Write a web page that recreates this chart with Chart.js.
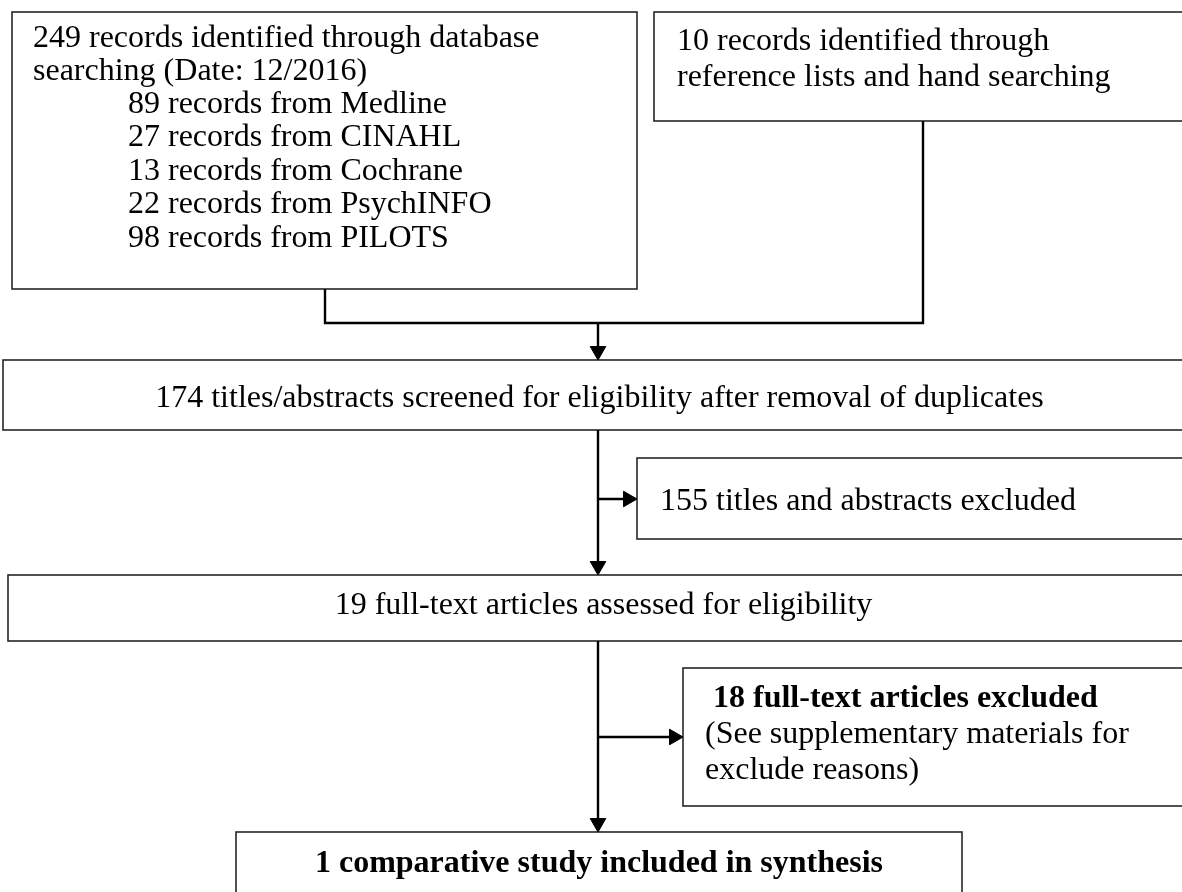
<!DOCTYPE html>
<html>
<head>
<meta charset="UTF-8"/>
<script src="https://cdn.jsdelivr.net/npm/chart.js@4.4.0/dist/chart.umd.min.js"></script>
<style>
  body { margin: 0; background: #fff; }
</style>
</head>
<body>
<canvas id="chart" width="1182" height="892"></canvas>
<script>
// --- data: counts and labels ---
const searchDate = '12/2016';
const sources = ['Medline', 'CINAHL', 'Cochrane', 'PsychINFO', 'PILOTS'];
const sourceCounts = [89, 27, 13, 22, 98];
const databaseTotal = 249;
const otherTotal = 10;
const screenedCount = 174;
const abstractsExcluded = 155;
const fullTextCount = 19;
const fullTextExcluded = 18;
const includedCount = 1;

// --- layout (in chart units, 1 unit = 1 px) ---
const FONT = '"Liberation Serif", "Times New Roman", serif';
const SIZE = 32;

const boxes = [
  { id: 'A', x0: 12, x1: 637, y0: 12, y1: 289, lines: [
      { t: databaseTotal + ' records identified through database', x: 33, y: 47 },
      { t: 'searching (Date: ' + searchDate + ')', x: 33, y: 80 }
    ].concat(sources.map((s, i) => ({ t: sourceCounts[i] + ' records from ' + s, x: 128, y: 113 + i * 33.4 })))
  },
  { id: 'B', x0: 654, x1: 1200, y0: 12, y1: 121, lines: [
      { t: otherTotal + ' records identified through', x: 677, y: 50 },
      { t: 'reference lists and hand searching', x: 677, y: 86 }
  ]},
  { id: 'C', x0: 3, x1: 1196, y0: 360, y1: 430, lines: [
      { t: screenedCount + ' titles/abstracts screened for eligibility after removal of duplicates', x: 'c', y: 407 }
  ]},
  { id: 'E', x0: 637, x1: 1200, y0: 458, y1: 539, lines: [
      { t: abstractsExcluded + ' titles and abstracts excluded', x: 660, y: 510 }
  ]},
  { id: 'D', x0: 8, x1: 1199, y0: 575, y1: 641, lines: [
      { t: fullTextCount + ' full-text articles assessed for eligibility', x: 'c', y: 614 }
  ]},
  { id: 'F', x0: 683, x1: 1200, y0: 668, y1: 806, lines: [
      { t: ' ' + fullTextExcluded + ' full-text articles excluded', x: 705, y: 707, bold: true },
      { t: '(See supplementary materials for', x: 705, y: 743 },
      { t: 'exclude reasons)', x: 705, y: 779 }
  ]},
  { id: 'G', x0: 236, x1: 962, y0: 832, y1: 940, lines: [
      { t: includedCount + ' comparative study included in synthesis', x: 'c', y: 872, bold: true }
  ]}
];
const box = id => boxes.find(b => b.id === id);

const spineX = 598;   // main vertical connector
const leftDropX = 325;
const rightDropX = 923;
const joinY = 323;
const branch1Y = 499;
const branch2Y = 737;
const arrowR = 9;

const connectors = [
  [{ x: leftDropX, y: box('A').y1 }, { x: leftDropX, y: joinY }, { x: spineX, y: joinY }],
  [{ x: rightDropX, y: box('B').y1 }, { x: rightDropX, y: joinY }, { x: spineX, y: joinY }],
  [{ x: spineX, y: joinY }, { x: spineX, y: box('C').y0 - 4 }],
  [{ x: spineX, y: box('C').y1 }, { x: spineX, y: box('D').y0 - 4 }],
  [{ x: spineX, y: branch1Y }, { x: box('E').x0 - 4, y: branch1Y }],
  [{ x: spineX, y: box('D').y1 }, { x: spineX, y: box('G').y0 - 4 }],
  [{ x: spineX, y: branch2Y }, { x: box('F').x0 - 4, y: branch2Y }]
];

// arrow heads: triangle points, centre placed one radius back from the tip
const heads = [
  { x: spineX, y: box('C').y0 - arrowR, rot: 180 },
  { x: spineX, y: box('D').y0 - arrowR, rot: 180 },
  { x: spineX, y: box('G').y0 - arrowR, rot: 180 },
  { x: box('E').x0 - arrowR, y: branch1Y, rot: 90 },
  { x: box('F').x0 - arrowR, y: branch2Y, rot: 90 }
];

const datasets = connectors.map(pts => ({
  data: pts,
  showLine: true,
  borderColor: '#000',
  borderWidth: 2.4,
  pointRadius: 0,
  fill: false,
  clip: false
}));
datasets.push({
  data: heads.map(h => ({ x: h.x, y: h.y })),
  showLine: false,
  pointStyle: 'triangle',
  pointRadius: arrowR,
  pointRotation: heads.map(h => h.rot),
  backgroundColor: '#000',
  borderColor: '#000',
  borderWidth: 1,
  clip: false
});

const boxPlugin = {
  id: 'boxes',
  beforeDatasetsDraw(chart) {
    const ctx = chart.ctx;
    const xs = chart.scales.x, ys = chart.scales.y;
    ctx.save();
    boxes.forEach(b => {
      const l = xs.getPixelForValue(b.x0), r = xs.getPixelForValue(b.x1);
      const t = ys.getPixelForValue(b.y0), btm = ys.getPixelForValue(b.y1);
      ctx.fillStyle = '#fff';
      ctx.fillRect(l, t, r - l, btm - t);
      ctx.strokeStyle = '#262626';
      ctx.lineWidth = 1.6;
      ctx.strokeRect(l, t, r - l, btm - t);
      ctx.fillStyle = '#000';
      ctx.textBaseline = 'alphabetic';
      b.lines.forEach(ln => {
        ctx.font = (ln.bold ? 'bold ' : '') + SIZE + 'px ' + FONT;
        let x;
        if (ln.x === 'c') {
          ctx.textAlign = 'center';
          x = (l + r) / 2;
        } else {
          ctx.textAlign = 'left';
          x = xs.getPixelForValue(ln.x);
        }
        ctx.fillText(ln.t, x, ys.getPixelForValue(ln.y));
      });
    });
    ctx.restore();
  }
};

new Chart(document.getElementById('chart').getContext('2d'), {
  type: 'scatter',
  data: { datasets: datasets },
  options: {
    responsive: false,
    animation: false,
    devicePixelRatio: 1,
    events: [],
    layout: { padding: 0, autoPadding: false },
    plugins: { legend: { display: false }, tooltip: { enabled: false } },
    scales: {
      x: { type: 'linear', min: 0, max: 1182, display: false },
      y: { type: 'linear', min: 0, max: 892, reverse: true, display: false }
    }
  },
  plugins: [boxPlugin]
});
</script>
</body>
</html>
